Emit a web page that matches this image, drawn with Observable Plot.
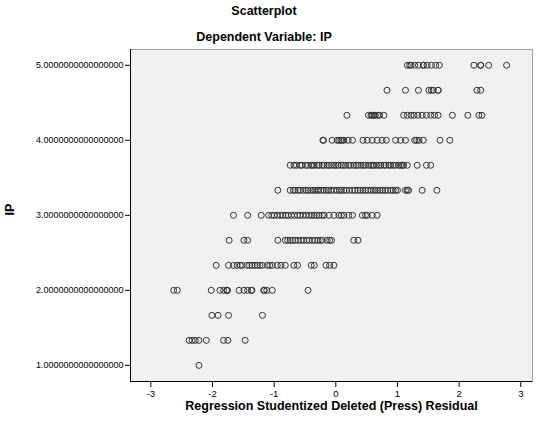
<!DOCTYPE html>
<html>
<head>
<meta charset="utf-8">
<script src="https://cdn.jsdelivr.net/npm/d3@7"></script>
<script src="https://cdn.jsdelivr.net/npm/@observablehq/plot@0.6"></script>
<style>
  html, body { margin: 0; padding: 0; background: #fff; }
  body { width: 538px; height: 425px; overflow: hidden; font-family: "Liberation Sans", Arial, sans-serif; }
  .title { position: absolute; left: 0; width: 528px; text-align: center; font-weight: bold; font-size: 12.5px; color: #000; }
  #chart { position: absolute; left: 0; top: 45px; }
</style>
</head>
<body>
<div class="title" style="top:4px">Scatterplot</div>
<div class="title" style="top:30px">Dependent Variable: IP</div>
<div id="chart"></div>
<script>
const titleText = "Scatterplot";
const subtitleText = "Dependent Variable: IP";
const xLabel = "Regression Studentized Deleted (Press) Residual";
const yLabel = "IP";
const xTicks = [-3, -2, -1, 0, 1, 2, 3];
const yTicks = [1, 2, 3, 4, 5];

// IP levels (y) and the residuals (x) observed at each level
const ipLevels = [5, 4.6667, 4.3333, 4, 3.6667, 3.3333, 3, 2.6667, 2.3333, 2, 1.6667, 1.3333, 1];

const res_5_00 = [1.16, 1.20, 1.22, 1.28, 1.34, 1.42, 1.42, 1.48, 1.55, 1.62, 1.68, 2.24, 2.35, 2.35, 2.48, 2.77];
const res_4_67 = [0.83, 1.13, 1.34, 1.51, 1.55, 1.58, 1.66, 1.66, 2.29, 2.35];
const res_4_33 = [0.18, 0.53, 0.57, 0.59, 0.62, 0.64, 0.68, 0.71, 0.78, 1.10, 1.16, 1.22, 1.27, 1.33, 1.40, 1.47, 1.54, 1.60, 1.66, 1.89, 2.14, 2.32, 2.37];
const res_4_00 = [-0.21, -0.20, -0.06, 0.02, 0.05, 0.08, 0.10, 0.13, 0.20, 0.27, 0.44, 0.51, 0.59, 0.67, 0.75, 0.82, 0.97, 1.05, 1.13, 1.28, 1.31, 1.35, 1.42, 1.69, 1.85];
const res_3_67 = [-0.74, -0.68, -0.64, -0.58, -0.55, -0.49, -0.45, -0.40, -0.38, -0.35, -0.30, -0.27, -0.22, -0.19, -0.14, -0.11, -0.07, -0.03, 0.00, 0.04, 0.09, 0.12, 0.16, 0.21, 0.24, 0.29, 0.33, 0.36, 0.41, 0.45, 0.48, 0.53, 0.57, 0.60, 0.62, 0.66, 0.70, 0.73, 0.78, 0.81, 0.86, 0.89, 0.93, 0.97, 1.02, 1.05, 1.08, 1.10, 1.16, 1.32, 1.47, 1.54];
const res_3_33 = [-0.94, -0.74, -0.69, -0.66, -0.61, -0.58, -0.53, -0.48, -0.45, -0.41, -0.37, -0.34, -0.30, -0.28, -0.24, -0.19, -0.15, -0.12, -0.08, -0.03, 0.02, 0.06, 0.09, 0.13, 0.17, 0.22, 0.27, 0.31, 0.36, 0.40, 0.44, 0.48, 0.52, 0.57, 0.61, 0.64, 0.68, 0.72, 0.76, 0.80, 0.84, 0.89, 0.93, 0.97, 1.00, 1.13, 1.16, 1.18, 1.40, 1.64];
const res_3_00 = [-1.66, -1.43, -1.21, -1.09, -1.04, -1.00, -0.95, -0.90, -0.86, -0.81, -0.77, -0.72, -0.67, -0.62, -0.58, -0.53, -0.48, -0.43, -0.39, -0.35, -0.31, -0.27, -0.22, -0.19, -0.11, -0.03, 0.05, 0.09, 0.13, 0.21, 0.27, 0.43, 0.48, 0.51, 0.59, 0.67];
const res_2_67 = [-1.73, -1.49, -1.43, -0.94, -0.82, -0.78, -0.74, -0.70, -0.66, -0.61, -0.56, -0.52, -0.47, -0.43, -0.38, -0.34, -0.29, -0.25, -0.22, -0.14, -0.10, -0.07, 0.29, 0.36];
const res_2_33 = [-1.94, -1.74, -1.66, -1.60, -1.55, -1.52, -1.44, -1.40, -1.36, -1.31, -1.27, -1.23, -1.19, -1.11, -1.07, -1.03, -0.95, -0.89, -0.82, -0.68, -0.62, -0.40, -0.35, -0.16, -0.10, -0.03];
const res_2_00 = [-2.63, -2.57, -2.02, -1.88, -1.82, -1.77, -1.76, -1.76, -1.57, -1.49, -1.43, -1.37, -1.36, -1.17, -1.16, -1.12, -1.03, -0.45];
const res_1_67 = [-2.01, -1.91, -1.74, -1.19];
const res_1_33 = [-2.38, -2.33, -2.28, -2.22, -2.10, -1.82, -1.75, -1.47];
const res_1_00 = [-2.22];

const residualsByLevel = [res_5_00, res_4_67, res_4_33, res_4_00, res_3_67, res_3_33, res_3_00, res_2_67, res_2_33, res_2_00, res_1_67, res_1_33, res_1_00];

const points = [];
ipLevels.forEach((ip, i) => residualsByLevel[i].forEach(r => points.push({residual: r, ip})));

const fmtY = d => d.toFixed(16);

const chart = Plot.plot({
  width: 538,
  height: 380,
  marginTop: 4,
  marginBottom: 44,
  marginLeft: 130,
  marginRight: 6,
  style: {fontFamily: "'Liberation Sans', Arial, sans-serif", fontSize: "9px", color: "#000", background: "transparent"},
  x: {domain: [-3.33, 3.19]},
  y: {domain: [0.785, 5.21]},
  marks: [
    Plot.frame({fill: "#f0f0f0", stroke: "#a0a0a0"}),
    Plot.dot(points, {x: "residual", y: "ip", r: 3, stroke: "#333", strokeWidth: 1, fill: "none"}),
    Plot.ruleX([-3.33], {stroke: "#000"}),
    Plot.ruleY([0.785], {stroke: "#000"}),
    Plot.axisX(xTicks, {tickSize: 6, tickPadding: 3, tickFormat: d => d, label: null, fontSize: 9.5}),
    Plot.axisY(yTicks, {tickSize: 5, tickPadding: 2, tickFormat: fmtY, label: null, fontSize: 9}),
    Plot.text([xLabel], {frameAnchor: "bottom", dy: 28, fontWeight: "bold", fontSize: 12.5, fill: "#000"}),
    Plot.text([yLabel], {frameAnchor: "left", dx: -121, rotate: -90, fontWeight: "bold", fontSize: 12.5, fill: "#000"})
  ]
});
document.getElementById("chart").appendChild(chart);
</script>
</body>
</html>
